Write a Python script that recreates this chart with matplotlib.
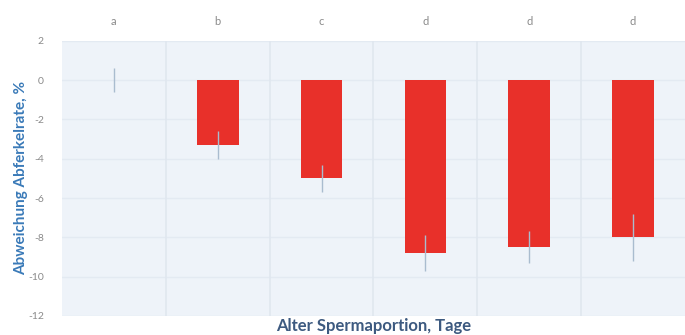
import numpy as np
import matplotlib.pyplot as plt

plt.rcParams['font.family'] = ['Lato', 'DejaVu Sans']

# Abweichung der Abferkelrate je Altersgruppe der Spermaportion
groups = ['0', '1', '2', '3', '4', '5']
deviation = [0.0, -3.3, -5.0, -8.8, -8.5, -8.0]
error = [0.6, 0.7, 0.7, 0.9, 0.8, 1.2]
letters = ['a', 'b', 'c', 'd', 'd', 'd']
yticks = [2, 0, -2, -4, -6, -8, -10, -12]

fig = plt.figure(figsize=(6.85, 3.35), dpi=100)
ax = fig.add_axes([0.0905, 0.057, 0.9095, 0.821])
ax.set_facecolor('#eef3f9')

x = np.arange(len(groups))
ax.bar(x, deviation, width=0.4, color='#e8302a', zorder=3)
ax.errorbar(x, deviation, yerr=error, fmt='none', ecolor='#a9bccf',
            elinewidth=1.0, capsize=0, zorder=4)

ax.set_xlim(-0.5, len(groups) - 0.5)
ax.set_ylim(-12, 2)
ax.set_yticks(yticks)
ax.set_yticklabels([str(t) for t in yticks], color='#8a8a8a', fontsize=7.5)
ax.set_xticks([])
ax.tick_params(axis='y', length=0, pad=13)

# Gitter: horizontale Linien und Trennlinien zwischen den Gruppen
for t in yticks:
    ax.axhline(t, color='#e3eaf2', lw=1.0, zorder=1)
for b in np.arange(0.5, len(groups) - 0.5):
    ax.axvline(b, color='#e0e7ef', lw=1.2, zorder=1)
for s in ax.spines.values():
    s.set_visible(False)

# Signifikanzbuchstaben oberhalb der Balken
for xi, lab in zip(x, letters):
    ax.text(xi, 1.07, lab, transform=ax.get_xaxis_transform(),
            ha='center', va='center', fontsize=8, color='#8a8a8a')

ax.set_ylabel('Abweichung Abferkelrate, %', color='#3a7ab8',
              fontsize=11, fontweight='bold', labelpad=0)
fig.text(0.545, 0.028, 'Alter Spermaportion, Tage', ha='center', va='center',
         color='#3d5a80', fontsize=12, fontweight='bold')

fig.savefig('out.png', dpi=100)
